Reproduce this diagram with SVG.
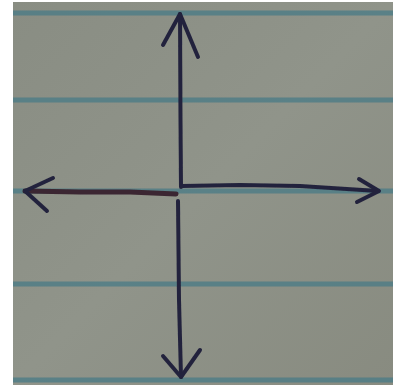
<svg xmlns="http://www.w3.org/2000/svg" width="393" height="385" viewBox="0 0 393 385">
  <defs>
    <linearGradient id="paper" x1="0" y1="0" x2="1" y2="1">
      <stop offset="0" stop-color="#898d83"/>
      <stop offset="0.5" stop-color="#90948a"/>
      <stop offset="1" stop-color="#888b80"/>
    </linearGradient>
    <filter id="soft" x="-5%" y="-5%" width="110%" height="110%">
      <feGaussianBlur stdDeviation="0.7"/>
    </filter>
  </defs>
  <style>
    .rule { stroke: #4d7c86; stroke-width: 5; opacity: 0.8; }
    .ink { fill: none; stroke: #23233d; stroke-width: 4; stroke-linecap: round; stroke-linejoin: round; }
    .ink2 { fill: none; stroke: #3a2630; stroke-width: 5; stroke-linecap: round; }
  </style>
  <rect width="393" height="385" fill="#ffffff"/>
  <rect x="13" y="2" width="380" height="383" fill="url(#paper)"/>
  <g id="rules" filter="url(#soft)">
    <line class="rule" x1="13" y1="13" x2="393" y2="13"/>
    <line class="rule" x1="13" y1="100" x2="393" y2="100"/>
    <line class="rule" x1="13" y1="191" x2="393" y2="191"/>
    <line class="rule" x1="13" y1="284" x2="393" y2="284"/>
    <line class="rule" x1="13" y1="380" x2="393" y2="380"/>
  </g>
  <g id="connectors" filter="url(#soft)">
    <path class="ink" d="M181,187 L180.5,120 L180,14"/>
    <path class="ink" d="M163,45 L180,14 L198,57"/>
    <path class="ink" d="M178,201 L179,300 L181,377"/>
    <path class="ink" d="M163,356 L181,377 L200,350"/>
    <path class="ink2" d="M176,194 L130,192 L80,192 L25,191"/>
    <path class="ink" d="M53,178 L25,191 L47,211"/>
    <path class="ink" d="M182,186 L240,185 L300,186 L378,191"/>
    <path class="ink" d="M359,179 L379,191 L357,202"/>
  </g>
</svg>
